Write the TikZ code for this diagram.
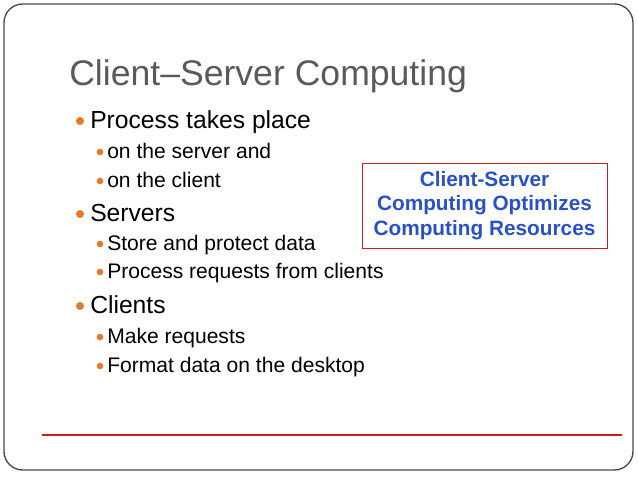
\documentclass[tikz,border=0pt]{standalone}
\usepackage{fontspec}
\setmainfont{Liberation Sans}
\usetikzlibrary{positioning}
\definecolor{bulletorange}{RGB}{230,120,40}
\definecolor{titlegray}{RGB}{90,90,90}
\definecolor{boxblue}{RGB}{40,80,200}
\definecolor{framered}{RGB}{200,30,30}
\tikzset{
    lvlone/.style={anchor=base west,inner sep=0pt,font=\fontsize{18.5}{22}\selectfont},
    lvltwo/.style={anchor=base west,inner sep=0pt,font=\fontsize{15.8}{18}\selectfont},
    dotone/.style={circle,fill=bulletorange,inner sep=0pt,minimum size=6pt},
    dottwo/.style={circle,fill=bulletorange,inner sep=0pt,minimum size=5pt}
}
\begin{document}
\begin{tikzpicture}[x=0.75pt,y=-0.75pt]
    \useasboundingbox (0,0) rectangle (638,479);
    \draw [titlegray!80!black,line width=1pt,rounded corners=14pt] (4,4) rectangle (633,470);
    \draw [framered,line width=0.9pt] (42,435) -- (622,435);
    \node [anchor=base west,inner sep=0pt,text=titlegray,font=\fontsize{26.7}{30}\selectfont]
        (title) at (69,85) {Client–Server Computing};
    % first level
    \foreach \name/\y/\txt in {proc/128/Process takes place,serv/221/Servers,clie/313/Clients} {
        \node [dotone] (d\name) at (80,\y-7) {};
        \node [lvlone] (\name) at (90,\y) {\txt};
    }
    % second level
    \foreach \name/\y/\txt in {srv/158/on the server and,cli/187/on the client,
        store/250/Store and protect data,req/278/Process requests from clients,
        make/343/Make requests,fmt/372/Format data on the desktop} {
        \node [dottwo] (d\name) at (100,\y-6) {};
        \node [lvltwo] (\name) at (107,\y) {\txt};
    }
    \node [draw=framered,minimum width=184pt,minimum height=63.5pt,inner sep=0pt,
        align=center,text=boxblue,font=\bfseries\fontsize{15.6}{18.5}\selectfont]
        (note) at (484.5,205.5) {Client-Server\\Computing Optimizes\\Computing Resources};
\end{tikzpicture}
\end{document}
